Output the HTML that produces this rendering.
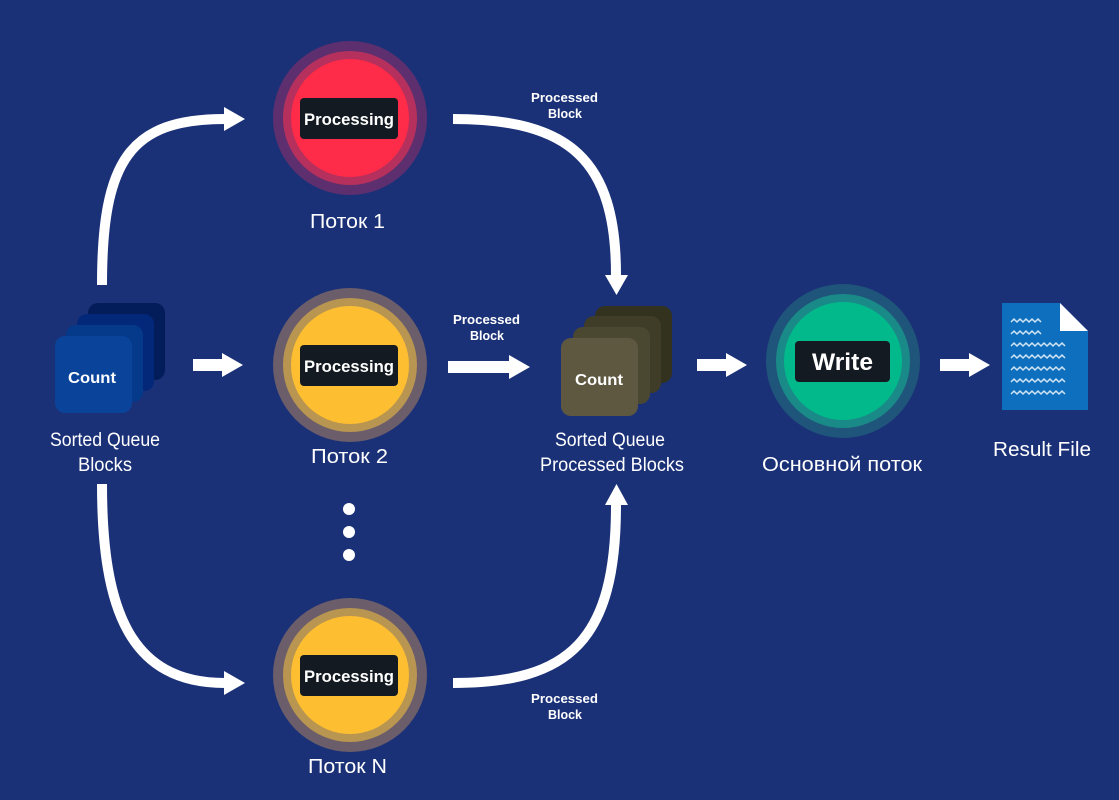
<!DOCTYPE html>
<html><head><meta charset="utf-8"><style>
html,body{margin:0;padding:0;background:#1b3177;}
svg{display:block}
text{font-family:"Liberation Sans",sans-serif;fill:#fff}
.b{font-weight:bold}
</style></head><body>
<svg width="1119" height="800" viewBox="0 0 1119 800">
<rect width="1119" height="800" fill="#1b3177"/>
<defs>
<g id="ah"><polygon points="0,-12 21,0 0,12" fill="#fff"/></g>
</defs>
<g fill="none" stroke="#fff" stroke-width="10">
<path d="M102,285 C102,160 130,119 225,119"/>
<path d="M102,484 C102,610 130,683 225,683"/>
<path d="M453,119 C570,119 616,160 616,275"/>
<path d="M453,683 C570,683 616,640 616,505"/>
</g>
<use href="#ah" x="224" y="119"/>
<use href="#ah" x="224" y="683"/>
<polygon points="605,275 628,275 616.5,295" fill="#fff"/>
<polygon points="605,505 628,505 616.5,484" fill="#fff"/>
<g fill="#fff">
<rect x="193" y="359" width="30" height="12"/><polygon points="222,353 243,365 222,377"/>
<rect x="448" y="361" width="62" height="12"/><polygon points="509,355 530,367 509,379"/>
<rect x="697" y="359" width="30" height="12"/><polygon points="726,353 747,365 726,377"/>
<rect x="940" y="359" width="30" height="12"/><polygon points="969,353 990,365 969,377"/>
</g>
<rect x="88" y="303" width="77" height="77" rx="10" fill="#021d5a"/>
<rect x="77" y="314" width="77" height="77" rx="10" fill="#03287a"/>
<rect x="66" y="325" width="77" height="77" rx="10" fill="#05398a"/>
<rect x="55" y="336" width="77" height="77" rx="10" fill="#0a449a"/>
<text x="68" y="383" class="b" font-size="16" textLength="48" lengthAdjust="spacingAndGlyphs">Count</text>
<text x="50" y="446" font-size="19" textLength="110" lengthAdjust="spacingAndGlyphs">Sorted Queue</text>
<text x="78" y="471" font-size="19" textLength="54" lengthAdjust="spacingAndGlyphs">Blocks</text>
<rect x="595" y="306" width="77" height="77" rx="10" fill="#33321f"/>
<rect x="584" y="316" width="77" height="77" rx="10" fill="#3f3d28"/>
<rect x="573" y="327" width="77" height="77" rx="10" fill="#4b4832"/>
<rect x="561" y="338" width="77" height="78" rx="10" fill="#5e5841"/>
<text x="575" y="385" class="b" font-size="16" textLength="48" lengthAdjust="spacingAndGlyphs">Count</text>
<text x="555" y="446" font-size="19" textLength="110" lengthAdjust="spacingAndGlyphs">Sorted Queue</text>
<text x="540" y="471" font-size="19" textLength="144" lengthAdjust="spacingAndGlyphs">Processed Blocks</text>
<circle cx="350" cy="118" r="77" fill="#5d2f6f"/><circle cx="350" cy="118" r="67" fill="#b5305c"/><circle cx="350" cy="118" r="59" fill="#fe2b49"/>
<circle cx="350" cy="365" r="77" fill="#6b5d6a"/><circle cx="350" cy="365" r="67" fill="#b89550"/><circle cx="350" cy="365" r="59" fill="#fdbe31"/>
<circle cx="350" cy="675" r="77" fill="#6b5d6a"/><circle cx="350" cy="675" r="67" fill="#b89550"/><circle cx="350" cy="675" r="59" fill="#fdbe31"/>
<circle cx="843" cy="361" r="77" fill="#1f557a"/><circle cx="843" cy="361" r="67" fill="#1a8a88"/><circle cx="843" cy="361" r="59" fill="#02b98c"/>
<g fill="#141a21">
<rect x="300" y="98" width="98" height="41" rx="4"/>
<rect x="300" y="345" width="98" height="41" rx="4"/>
<rect x="300" y="655" width="98" height="41" rx="4"/>
<rect x="795" y="341" width="95" height="41" rx="4"/>
</g>
<text x="304" y="125" class="b" font-size="17" textLength="90" lengthAdjust="spacingAndGlyphs">Processing</text>
<text x="304" y="372" class="b" font-size="17" textLength="90" lengthAdjust="spacingAndGlyphs">Processing</text>
<text x="304" y="682" class="b" font-size="17" textLength="90" lengthAdjust="spacingAndGlyphs">Processing</text>
<text x="812" y="370" class="b" font-size="24" textLength="61" lengthAdjust="spacingAndGlyphs">Write</text>
<text x="310" y="228" font-size="20" textLength="75" lengthAdjust="spacingAndGlyphs">Поток 1</text>
<text x="311" y="463" font-size="20" textLength="77" lengthAdjust="spacingAndGlyphs">Поток 2</text>
<text x="308" y="773" font-size="20" textLength="79" lengthAdjust="spacingAndGlyphs">Поток N</text>
<text x="762" y="471" font-size="20" textLength="160" lengthAdjust="spacingAndGlyphs">Основной поток</text>
<text x="993" y="456" font-size="20" textLength="98" lengthAdjust="spacingAndGlyphs">Result File</text>
<g font-size="12.5">
<text x="531" y="102" class="b" textLength="67" lengthAdjust="spacingAndGlyphs">Processed</text><text x="548" y="118" class="b" textLength="34" lengthAdjust="spacingAndGlyphs">Block</text>
<text x="453" y="324" class="b" textLength="67" lengthAdjust="spacingAndGlyphs">Processed</text><text x="470" y="340" class="b" textLength="34" lengthAdjust="spacingAndGlyphs">Block</text>
<text x="531" y="703" class="b" textLength="67" lengthAdjust="spacingAndGlyphs">Processed</text><text x="548" y="719" class="b" textLength="34" lengthAdjust="spacingAndGlyphs">Block</text>
</g>
<circle cx="349" cy="509" r="6" fill="#fff"/><circle cx="349" cy="532" r="6" fill="#fff"/><circle cx="349" cy="555" r="6" fill="#fff"/>
<polygon points="1002,303 1060,303 1088,331 1088,410 1002,410" fill="#0d6fbd"/>
<polygon points="1060,303 1088,331 1060,331" fill="#fff"/>
<g fill="none" stroke="#cfe3f5" stroke-width="1.5">
<path d="M1011,322 l3,-3 3,3 3,-3 3,3 3,-3 3,3 3,-3 3,3 3,-3 3,3"/>
<path d="M1011,334 l3,-3 3,3 3,-3 3,3 3,-3 3,3 3,-3 3,3 3,-3 3,3"/>
<path d="M1011,346 l3,-3 3,3 3,-3 3,3 3,-3 3,3 3,-3 3,3 3,-3 3,3 3,-3 3,3 3,-3 3,3 3,-3 3,3 3,-3 3,3"/>
<path d="M1011,358 l3,-3 3,3 3,-3 3,3 3,-3 3,3 3,-3 3,3 3,-3 3,3 3,-3 3,3 3,-3 3,3 3,-3 3,3 3,-3 3,3"/>
<path d="M1011,370 l3,-3 3,3 3,-3 3,3 3,-3 3,3 3,-3 3,3 3,-3 3,3 3,-3 3,3 3,-3 3,3 3,-3 3,3 3,-3 3,3"/>
<path d="M1011,382 l3,-3 3,3 3,-3 3,3 3,-3 3,3 3,-3 3,3 3,-3 3,3 3,-3 3,3 3,-3 3,3 3,-3 3,3 3,-3 3,3"/>
<path d="M1011,394 l3,-3 3,3 3,-3 3,3 3,-3 3,3 3,-3 3,3 3,-3 3,3 3,-3 3,3 3,-3 3,3 3,-3 3,3 3,-3 3,3"/>
</g>
</svg>
</body></html>
